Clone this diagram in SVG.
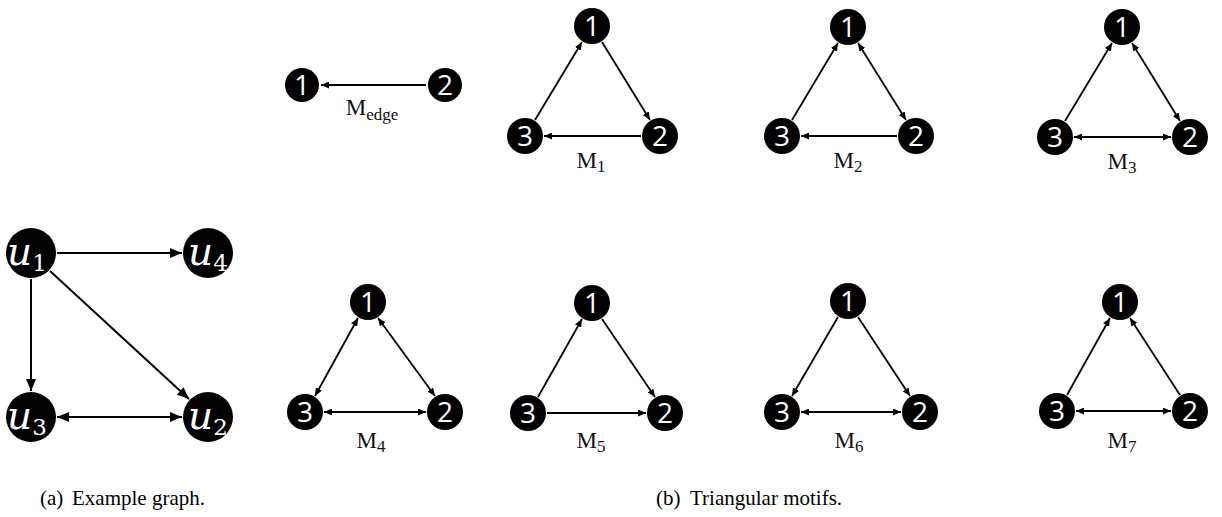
<svg xmlns="http://www.w3.org/2000/svg" width="1222" height="517" viewBox="0 0 1222 517">
  <style>
    .node circle { fill: #000; }
    .num { fill: #fff; font-family: "Open Sans", "Noto Sans", sans-serif; font-size: 28px; text-anchor: middle; }
    .var { fill: #fff; font-family: "DejaVu Serif", serif; font-style: italic; font-size: 39px; }
    .var .sub { font-style: normal; font-size: 23px; }
    .edge { stroke: #000; stroke-width: 1.8; fill: none; }
    .big { stroke-width: 2; }
    .lbl { fill: #111; font-family: "Liberation Serif", serif; font-size: 23px; text-anchor: middle; }
    .lbl .sub { font-size: 17px; }
    .cap { fill: #000; font-family: "Liberation Serif", serif; font-size: 21px; }
  </style>
  <defs>
    <marker id="arr" markerUnits="userSpaceOnUse" markerWidth="8" markerHeight="7" refX="8" refY="3.5" orient="auto-start-reverse">
      <path d="M0,0 L8,3.5 L0,7 z" fill="#000"/>
    </marker>
    <marker id="arrBig" markerUnits="userSpaceOnUse" markerWidth="12" markerHeight="10" refX="12" refY="5" orient="auto-start-reverse">
      <path d="M0,0 L12,5 L0,10 z" fill="#000"/>
    </marker>
  </defs>
  <rect width="1222" height="517" fill="#fff"/>

  <!-- connectors -->
  <g id="connectors">
    <!-- example graph -->
    <line class="edge big" x1="57" y1="253" x2="182" y2="253" marker-end="url(#arrBig)"/>
    <line class="edge big" x1="31" y1="279" x2="31" y2="391" marker-end="url(#arrBig)"/>
    <line class="edge big" x1="50" y1="271" x2="189" y2="399" marker-end="url(#arrBig)"/>
    <line class="edge big" x1="57" y1="417" x2="182" y2="417" marker-start="url(#arrBig)" marker-end="url(#arrBig)"/>
    <!-- M_edge -->
    <line class="edge" x1="426" y1="85" x2="321" y2="85" marker-end="url(#arr)"/>
    <!-- M1 -->
    <line class="edge" x1="535" y1="120" x2="582" y2="42" marker-end="url(#arr)"/>
    <line class="edge" x1="602" y1="42" x2="650" y2="120" marker-end="url(#arr)"/>
    <line class="edge" x1="544" y1="136" x2="641" y2="136" marker-start="url(#arr)"/>
    <!-- M2 -->
    <line class="edge" x1="792" y1="120" x2="838" y2="43" marker-end="url(#arr)"/>
    <line class="edge" x1="858" y1="43" x2="906" y2="120" marker-start="url(#arr)" marker-end="url(#arr)"/>
    <line class="edge" x1="801" y1="136" x2="897" y2="136" marker-start="url(#arr)"/>
    <!-- M3 -->
    <line class="edge" x1="1065" y1="121" x2="1112" y2="43" marker-end="url(#arr)"/>
    <line class="edge" x1="1132" y1="43" x2="1180" y2="121" marker-start="url(#arr)" marker-end="url(#arr)"/>
    <line class="edge" x1="1074" y1="137" x2="1171" y2="137" marker-start="url(#arr)" marker-end="url(#arr)"/>
    <!-- M4 -->
    <line class="edge" x1="315" y1="396" x2="358" y2="318" marker-start="url(#arr)" marker-end="url(#arr)"/>
    <line class="edge" x1="378" y1="318" x2="435" y2="396" marker-start="url(#arr)" marker-end="url(#arr)"/>
    <line class="edge" x1="324" y1="412" x2="426" y2="412" marker-start="url(#arr)" marker-end="url(#arr)"/>
    <!-- M5 -->
    <line class="edge" x1="538" y1="397" x2="582" y2="319" marker-end="url(#arr)"/>
    <line class="edge" x1="602" y1="319" x2="655" y2="397" marker-end="url(#arr)"/>
    <line class="edge" x1="547" y1="413" x2="646" y2="413" marker-end="url(#arr)"/>
    <!-- M6 -->
    <line class="edge" x1="792" y1="396" x2="838" y2="317" marker-start="url(#arr)"/>
    <line class="edge" x1="858" y1="317" x2="910" y2="396" marker-end="url(#arr)"/>
    <line class="edge" x1="801" y1="412" x2="901" y2="412" marker-start="url(#arr)" marker-end="url(#arr)"/>
    <!-- M7 -->
    <line class="edge" x1="1067" y1="395" x2="1110" y2="318" marker-end="url(#arr)"/>
    <line class="edge" x1="1130" y1="318" x2="1180" y2="395" marker-start="url(#arr)"/>
    <line class="edge" x1="1076" y1="411" x2="1171" y2="411" marker-start="url(#arr)" marker-end="url(#arr)"/>
  </g>

  <!-- example graph nodes -->
  <g id="u1" class="node"><circle cx="31" cy="253" r="25"/><text class="var" x="7" y="265">u<tspan class="sub" dy="6">1</tspan></text></g>
  <g id="u4" class="node"><circle cx="208" cy="253" r="25"/><text class="var" x="188" y="265">u<tspan class="sub" dy="6">4</tspan></text></g>
  <g id="u3" class="node"><circle cx="31" cy="417" r="25"/><text class="var" x="7" y="429">u<tspan class="sub" dy="6">3</tspan></text></g>
  <g id="u2" class="node"><circle cx="208" cy="417" r="25"/><text class="var" x="188" y="429">u<tspan class="sub" dy="6">2</tspan></text></g>

  <!-- M_edge -->
  <g id="medge-n1" class="node"><circle cx="302" cy="85" r="17"/><text class="num" x="302" y="95">1</text></g>
  <g id="medge-n2" class="node"><circle cx="445" cy="85" r="17"/><text class="num" x="445" y="95">2</text></g>
  <text class="lbl" x="372" y="115">M<tspan class="sub" dy="5">edge</tspan></text>

  <!-- M1 -->
  <g id="m1-n1" class="node"><circle cx="592" cy="26" r="18"/><text class="num" x="592" y="36">1</text></g>
  <g id="m1-n3" class="node"><circle cx="525" cy="136" r="18"/><text class="num" x="525" y="146">3</text></g>
  <g id="m1-n2" class="node"><circle cx="660" cy="136" r="18"/><text class="num" x="660" y="146">2</text></g>
  <text class="lbl" x="591" y="168">M<tspan class="sub" dy="4">1</tspan></text>

  <!-- M2 -->
  <g id="m2-n1" class="node"><circle cx="848" cy="27" r="18"/><text class="num" x="848" y="37">1</text></g>
  <g id="m2-n3" class="node"><circle cx="782" cy="136" r="18"/><text class="num" x="782" y="146">3</text></g>
  <g id="m2-n2" class="node"><circle cx="916" cy="136" r="18"/><text class="num" x="916" y="146">2</text></g>
  <text class="lbl" x="848" y="168">M<tspan class="sub" dy="4">2</tspan></text>

  <!-- M3 -->
  <g id="m3-n1" class="node"><circle cx="1122" cy="27" r="18"/><text class="num" x="1122" y="37">1</text></g>
  <g id="m3-n3" class="node"><circle cx="1055" cy="137" r="18"/><text class="num" x="1055" y="147">3</text></g>
  <g id="m3-n2" class="node"><circle cx="1190" cy="137" r="18"/><text class="num" x="1190" y="147">2</text></g>
  <text class="lbl" x="1122" y="169">M<tspan class="sub" dy="4">3</tspan></text>

  <!-- M4 -->
  <g id="m4-n1" class="node"><circle cx="368" cy="302" r="18"/><text class="num" x="368" y="312">1</text></g>
  <g id="m4-n3" class="node"><circle cx="305" cy="412" r="18"/><text class="num" x="305" y="422">3</text></g>
  <g id="m4-n2" class="node"><circle cx="445" cy="412" r="18"/><text class="num" x="445" y="422">2</text></g>
  <text class="lbl" x="371" y="448">M<tspan class="sub" dy="4">4</tspan></text>

  <!-- M5 -->
  <g id="m5-n1" class="node"><circle cx="592" cy="303" r="18"/><text class="num" x="592" y="313">1</text></g>
  <g id="m5-n3" class="node"><circle cx="528" cy="413" r="18"/><text class="num" x="528" y="423">3</text></g>
  <g id="m5-n2" class="node"><circle cx="665" cy="413" r="18"/><text class="num" x="665" y="423">2</text></g>
  <text class="lbl" x="591" y="448">M<tspan class="sub" dy="4">5</tspan></text>

  <!-- M6 -->
  <g id="m6-n1" class="node"><circle cx="848" cy="301" r="18"/><text class="num" x="848" y="311">1</text></g>
  <g id="m6-n3" class="node"><circle cx="782" cy="412" r="18"/><text class="num" x="782" y="422">3</text></g>
  <g id="m6-n2" class="node"><circle cx="920" cy="412" r="18"/><text class="num" x="920" y="422">2</text></g>
  <text class="lbl" x="849" y="448">M<tspan class="sub" dy="4">6</tspan></text>

  <!-- M7 -->
  <g id="m7-n1" class="node"><circle cx="1120" cy="302" r="18"/><text class="num" x="1120" y="312">1</text></g>
  <g id="m7-n3" class="node"><circle cx="1057" cy="411" r="18"/><text class="num" x="1057" y="421">3</text></g>
  <g id="m7-n2" class="node"><circle cx="1190" cy="411" r="18"/><text class="num" x="1190" y="421">2</text></g>
  <text class="lbl" x="1122" y="448">M<tspan class="sub" dy="4">7</tspan></text>

  <!-- sub-figure captions -->
  <text class="cap" x="40" y="505">(a)</text>
  <text class="cap" x="72" y="505">Example graph.</text>
  <text class="cap" x="656" y="505">(b)</text>
  <text class="cap" x="690" y="505">Triangular motifs.</text>
</svg>
